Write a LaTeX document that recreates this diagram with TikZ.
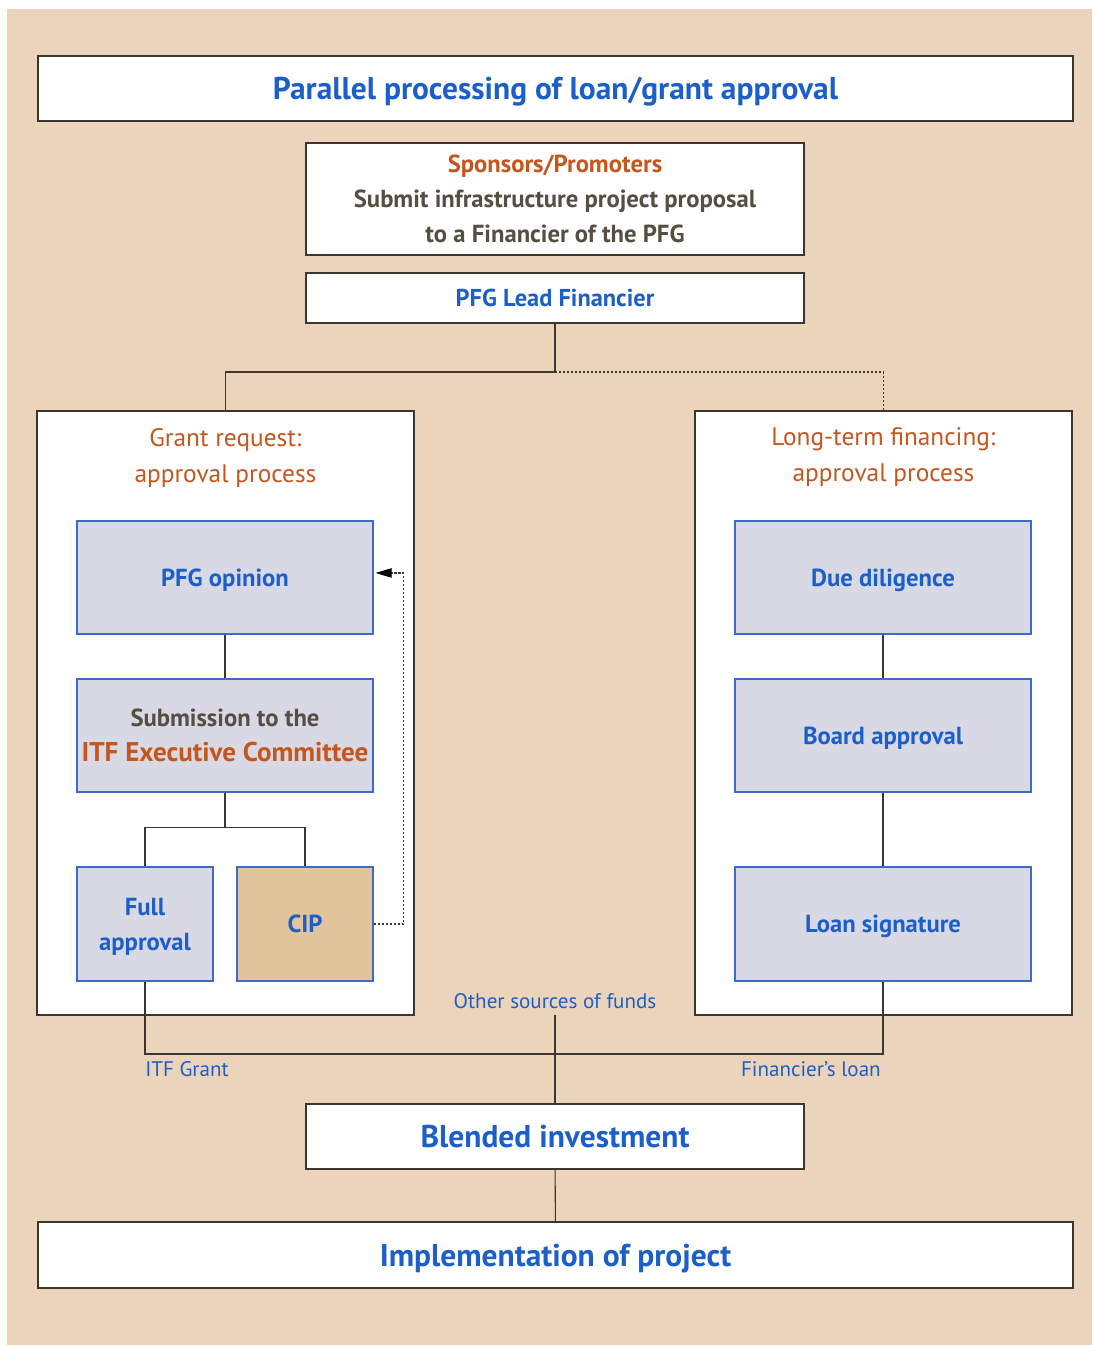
\documentclass[tikz,border=0pt]{standalone}
\usepackage{fontspec}
\setmainfont{PT Sans}
\usetikzlibrary{arrows.meta}
\definecolor{bgc}{HTML}{EBD4BA}
\definecolor{bluet}{HTML}{1C5FC9}
\definecolor{oranget}{HTML}{C4561E}
\definecolor{grayt}{HTML}{544E43}
\definecolor{boxline}{HTML}{3B362F}
\definecolor{innerline}{HTML}{3C6CCB}
\definecolor{lav}{HTML}{D9D9E5}
\definecolor{tanf}{HTML}{E1C39C}
\newcommand{\rbox}[6]{\node[#1, minimum width={(#5-#3)*0.75pt}, minimum height={(#6-#4)*0.75pt}] (#2) at ({(#3+#5)/2},{(#4+#6)/2})}
\tikzset{
  wbox/.style={draw=boxline, fill=white, line width=0.8pt, inner sep=0pt, align=center},
  ibox/.style={draw=innerline, fill=lav, line width=0.8pt, inner sep=0pt, align=center, font=\bfseries\fontsize{18.5}{25.5}\selectfont, text=bluet},
  flat/.style={text depth=0pt},
  conn/.style={draw=boxline, line width=0.8pt},
  dconn/.style={draw=boxline, line width=0.8pt, dash pattern=on 1.6pt off 1.4pt},
  lbl/.style={inner sep=0pt, text=bluet, font=\fontsize{15.8}{18}\selectfont},
  head/.style={inner sep=0pt, text=oranget, align=center, font=\fontsize{19}{26.5}\selectfont},
  bigt/.style={text=bluet, font=\bfseries\fontsize{23.6}{28}\selectfont, text depth=0pt},
}
\begin{document}
\begin{tikzpicture}[x=0.75pt,y=-0.75pt]
\useasboundingbox (0,0) rectangle (1092,1345);
\fill[white] (0,0) rectangle (1092,1345);
\fill[bgc] (7,9) rectangle (1092,1345);

\rbox{wbox,bigt}{title}{38}{56}{1073}{121} {Parallel processing of loan/grant approval};

\rbox{wbox, font=\bfseries\fontsize{18.5}{26.2}\selectfont}{spons}{306}{143}{804}{255} {\textcolor{oranget}{Sponsors/Promoters}\\\textcolor{grayt}{Submit infrastructure project proposal}\\\textcolor{grayt}{to a Financier of the PFG}};

\rbox{wbox, flat, text=bluet, font=\bfseries\fontsize{18.3}{22}\selectfont}{lead}{306}{273}{804}{323} {PFG Lead Financier};

\rbox{wbox}{grant}{37}{411}{414}{1015} {};
\rbox{wbox}{long}{695}{411}{1072}{1015} {};
\node[head] (granth) at (225.5,458) {Grant request:\\approval process};
\node[head] (longh) at (883.5,457) {Long-term financing:\\approval process};

\rbox{ibox,flat}{pfg}{77}{521}{373}{634} {PFG opinion};
\rbox{ibox}{sub}{77}{679}{373}{792} {{\color{grayt}\fontsize{18.5}{22}\selectfont Submission to the}\\[1pt]{\color{oranget}\fontsize{20.3}{24}\selectfont ITF Executive Committee}};
\rbox{ibox,flat, font=\bfseries\fontsize{18.5}{26.2}\selectfont}{full}{77}{867}{213}{981} {Full\\approval};
\rbox{ibox,flat, fill=tanf}{cip}{237}{867}{373}{981} {CIP};

\rbox{ibox,flat}{due}{735}{521}{1031}{634} {Due diligence};
\rbox{ibox,flat}{board}{735}{679}{1031}{792} {Board approval};
\rbox{ibox,flat}{loan}{735}{867}{1031}{981} {Loan signature};

\node[lbl] (other) at (555,1001) {Other sources of funds};
\node[lbl, anchor=north west] (itf) at (145,1061) {ITF Grant};
\node[lbl, anchor=north east] (finl) at (881,1061) {Financier’s loan};

\rbox{wbox,bigt}{blend}{306}{1104}{804}{1169} {Blended investment};
\rbox{wbox,bigt}{impl}{38}{1222}{1073}{1288} {Implementation of project};

\coordinate (split) at (555,372);
\coordinate (fund) at (555,1054);

\draw[conn] (lead.south) -- (split) -| (grant.north);
\draw[dconn] (split) -| (long.north);
\draw[conn] (pfg) -- (sub);
\draw[conn] (sub.south) -- ++(0,35) -| (full.north);
\draw[conn] (sub.south) -- ++(0,35) -| (cip.north);
\draw[dconn, -{Triangle[length=12pt,width=7pt,color=black,fill=black]}] (cip.east) -- ++(30,0) |- ([yshift=3.4pt,xshift=1.5pt]pfg.east);
\draw[conn] (due) -- (board);
\draw[conn] (board) -- (loan);
\draw[conn] (full.south) |- (fund) -| (loan.south);
\draw[conn] (other.south) ++(0,6) -- (blend.north);
\draw[conn] (blend) -- (impl);
\end{tikzpicture}
\end{document}
